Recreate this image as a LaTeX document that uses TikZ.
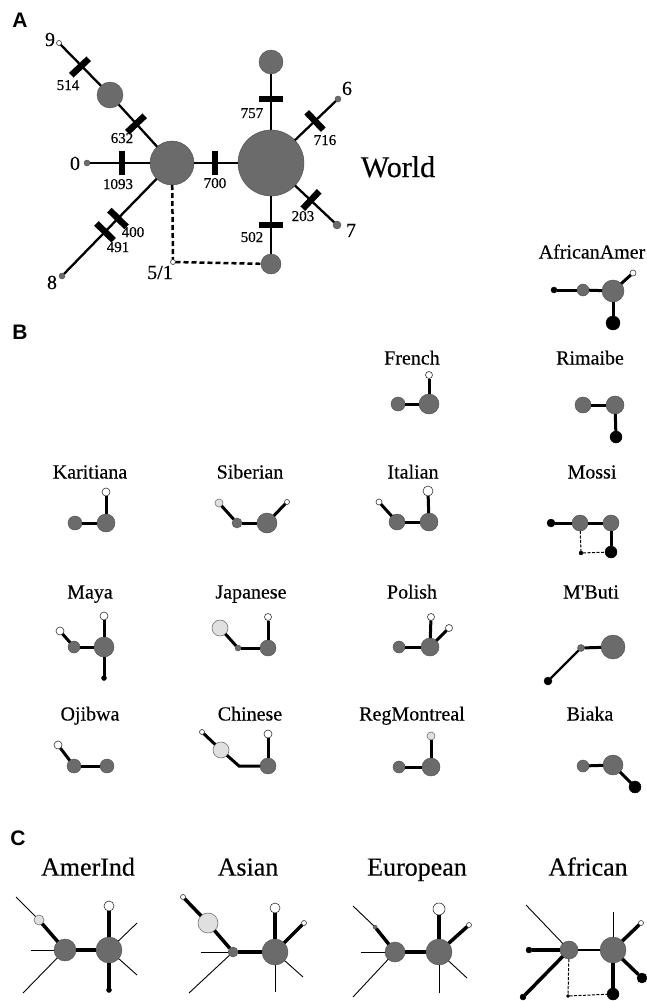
\documentclass[tikz,border=0pt]{standalone}
\usepackage{fontspec}
\setmainfont{Liberation Serif}[Ligatures=TeXOff, FakeBold=0.3]
\newfontfamily\hvfont{Liberation Sans}
\begin{document}
\begin{tikzpicture}[x=1pt,y=-1pt,
 nd/.style={circle, inner sep=0pt, outer sep=0pt},
 gn/.style={nd, fill=black!58, draw=black!70, line width=0.4pt, minimum size=#1},
 wn/.style={nd, fill=white, draw=black!80, line width=0.6pt, minimum size=#1},
 pn/.style={nd, fill=black!12, draw=black!55, line width=0.6pt, minimum size=#1},
 kn/.style={nd, fill=black, draw=black, line width=0.4pt, minimum size=#1},
 al/.style={line width=2.3pt},
 bl/.style={line width=3pt},
 cl/.style={line width=3.5pt},
 tl/.style={line width=0.9pt},
 dla/.style={line width=2.5pt, dash pattern=on 5pt off 3pt},
 dlb/.style={line width=1pt, dash pattern=on 3pt off 1.5pt},
 barline/.style={line width=6.5pt},
 numlab/.style={font=\fontsize{15}{15}\selectfont, inner sep=0pt, anchor=base},
 biglab/.style={font=\fontsize{20}{20}\selectfont, inner sep=0pt, anchor=base},
 poplab/.style={font=\fontsize{20}{20}\selectfont, inner sep=0pt, anchor=base},
 grplab/.style={font=\fontsize{26}{26}\selectfont, inner sep=0pt, anchor=base},
 panlab/.style={font=\hvfont\bfseries\fontsize{21}{21}\selectfont, inner sep=0pt, anchor=base},
]
\useasboundingbox[fill=white] (0,0) rectangle (646,1001);

%%%%%%%%%%%%%%%% Panel A
\node[panlab] (pA) at (20,27.5) {A};
\node[wn=5] (n9) at (59,43) {};
\node[gn=26] (n632) at (110,95) {};
\node[gn=44] (L) at (172,163) {};
\node[gn=66] (R) at (271,163) {};
\node[gn=6] (n0) at (87,163) {};
\node[gn=24] (nT) at (271,62) {};
\node[gn=6] (n6) at (338,99) {};
\node[gn=8] (n7) at (337,225) {};
\node[gn=20] (nB) at (271,264) {};
\node[gn=6] (n8) at (62,276) {};
\node[wn=5] (n51) at (173,262) {};

\draw[al] (n9) -- (n632);
\draw[al] (n632) -- (L);
\draw[al] (n0) -- (L);
\draw[al] (L) -- (R);
\draw[al] (R) -- (nT);
\draw[al] (R) -- (n6);
\draw[al] (R) -- (n7);
\draw[al] (R) -- (nB);
\draw[al] (L) -- (n8);
\draw[dla] (L) -- (n51);
\draw[dla] (n51) -- (nB);

% mutation bars
\draw[barline] (71.3,75.2) -- (88.7,58.8);
\draw[barline] (127.3,132.2) -- (144.7,115.8);
\draw[barline] (122,151) -- (122,175);
\draw[barline] (215,151) -- (215,175);
\draw[barline] (259,99) -- (283,99);
\draw[barline] (306.7,112.3) -- (323.3,129.7);
\draw[barline] (302.8,208.7) -- (319.2,191.3);
\draw[barline] (259,225) -- (283,225);
\draw[barline] (109.4,210.1) -- (126.6,226.9);
\draw[barline] (96.4,223.4) -- (113.6,240.2);

\node[numlab] (t514) at (68,90) {514};
\node[numlab] (t632) at (122,143) {632};
\node[numlab] (t1093) at (118,189) {1093};
\node[numlab] (t700) at (215,188) {700};
\node[numlab] (t757) at (252,118) {757};
\node[numlab] (t716) at (325,145) {716};
\node[numlab] (t203) at (303,221) {203};
\node[numlab] (t502) at (252,242) {502};
\node[numlab] (t400) at (133,237) {400};
\node[numlab] (t491) at (118,252) {491};
\node[biglab] (t9) at (50,46) {9};
\node[biglab] (t0) at (75,170) {0};
\node[biglab] (t8) at (52,289) {8};
\node[biglab] (t51) at (160,279) {5/1};
\node[biglab] (t6) at (347,95) {6};
\node[biglab] (t7) at (351,237) {7};
\node[font=\fontsize{30}{30}\selectfont, inner sep=0pt, anchor=base] (tW) at (398,177) {World};

%%%%%%%%%%%%%%%% Panel B
\node[panlab] (pB) at (20,339.5) {B};

% AfricanAmer
\node[poplab] (lAA) at (592,258.5) {AfricanAmer};
\node[kn=6] (aa1) at (554,290) {};
\node[gn=12] (aa2) at (583,290) {};
\node[gn=22] (aa3) at (613,291) {};
\node[wn=6] (aa4) at (633,273) {};
\node[kn=14] (aa5) at (613,323) {};
\draw[bl] (aa1) -- (aa2); \draw[bl] (aa2) -- (aa3);
\draw[bl] (aa3) -- (aa4); \draw[bl] (aa3) -- (aa5);

% French
\node[poplab] (lFR) at (412,364.5) {French};
\node[gn=14] (fr1) at (398,404) {};
\node[gn=20] (fr2) at (429,404) {};
\node[wn=7] (fr3) at (429,375) {};
\draw[bl] (fr1) -- (fr2); \draw[bl] (fr2) -- (fr3);

% Rimaibe
\node[poplab] (lRI) at (590,364.5) {Rimaibe};
\node[gn=16] (ri1) at (583,405) {};
\node[gn=18] (ri2) at (615,405) {};
\node[kn=12] (ri3) at (616,437) {};
\draw[bl] (ri1) -- (ri2); \draw[bl] (ri2) -- (ri3);

% Karitiana
\node[poplab] (lKA) at (90,478.5) {Karitiana};
\node[gn=14] (ka1) at (75,523) {};
\node[gn=18] (ka2) at (106,523) {};
\node[wn=8] (ka3) at (106,492) {};
\draw[bl] (ka1) -- (ka2); \draw[bl] (ka2) -- (ka3);

% Siberian
\node[poplab] (lSI) at (250,478.5) {Siberian};
\node[pn=8] (si1) at (219,503) {};
\node[gn=10] (si2) at (237,523) {};
\node[gn=20] (si3) at (267,523) {};
\node[wn=5] (si4) at (287,502) {};
\draw[bl] (si1) -- (si2); \draw[bl] (si2) -- (si3); \draw[bl] (si3) -- (si4);

% Italian
\node[poplab] (lIT) at (413,478.5) {Italian};
\node[wn=6] (it1) at (379,502) {};
\node[gn=16] (it2) at (397,522) {};
\node[gn=18] (it3) at (429,522) {};
\node[wn=10] (it4) at (428,491) {};
\draw[bl] (it1) -- (it2); \draw[bl] (it2) -- (it3); \draw[bl] (it3) -- (it4);

% Mossi
\node[poplab] (lMO) at (592,478.5) {Mossi};
\node[kn=8] (mo1) at (551,523) {};
\node[gn=16] (mo2) at (580,523) {};
\node[gn=16] (mo3) at (611,523) {};
\node[kn=12] (mo4) at (611,552) {};
\node[kn=4] (mo5) at (581,553) {};
\draw[bl] (mo1) -- (mo2); \draw[bl] (mo2) -- (mo3); \draw[bl] (mo3) -- (mo4);
\draw[dlb] (mo2) -- (mo5); \draw[dlb] (mo5) -- (mo4);

% Maya
\node[poplab] (lMA) at (90,598.5) {Maya};
\node[wn=8] (ma1) at (60,631) {};
\node[gn=12] (ma2) at (74,647) {};
\node[gn=20] (ma3) at (104,647) {};
\node[wn=8] (ma4) at (104,616) {};
\node[kn=5] (ma5) at (104,678) {};
\draw[bl] (ma1) -- (ma2); \draw[bl] (ma2) -- (ma3);
\draw[bl] (ma3) -- (ma4); \draw[bl] (ma3) -- (ma5);

% Japanese
\node[poplab] (lJA) at (251,598.5) {Japanese};
\node[pn=16] (ja1) at (220,628) {};
\node[gn=6] (ja2) at (238,648) {};
\node[gn=16] (ja3) at (268,648) {};
\node[wn=7] (ja4) at (268,617) {};
\draw[bl] (ja1) -- (ja2); \draw[bl] (ja2) -- (ja3); \draw[bl] (ja3) -- (ja4);

% Polish
\node[poplab] (lPO) at (412,598.5) {Polish};
\node[gn=12] (po1) at (399,647) {};
\node[gn=18] (po2) at (430,647) {};
\node[wn=7] (po3) at (431,617) {};
\node[wn=7] (po4) at (449,628) {};
\draw[bl] (po1) -- (po2); \draw[bl] (po2) -- (po3); \draw[bl] (po2) -- (po4);

% M'Buti
\node[poplab] (lMB) at (591,598.5) {M'Buti};
\node[kn=8] (mb1) at (548,681) {};
\node[gn=7] (mb2) at (581,648) {};
\node[gn=24] (mb3) at (613,647) {};
\draw[line width=2.2pt] (mb1) -- (mb2); \draw[bl] (mb2) -- (mb3);

% Ojibwa
\node[poplab] (lOJ) at (90,720.5) {Ojibwa};
\node[wn=8] (oj1) at (58,745) {};
\node[gn=14] (oj2) at (74,766) {};
\node[gn=14] (oj3) at (107,766) {};
\draw[bl] (oj1) -- (oj2); \draw[bl] (oj2) -- (oj3);

% Chinese
\node[poplab] (lCH) at (250,720.5) {Chinese};
\node[wn=5] (ch1) at (202,732) {};
\node[pn=16] (ch2) at (221,750) {};
\coordinate (chb) at (239,766);
\node[gn=16] (ch3) at (268,766) {};
\node[wn=8] (ch4) at (268,734) {};
\draw[bl] (ch1) -- (ch2); \draw[bl, line join=miter] (ch2) -- (chb) -- (ch3); \draw[bl] (ch3) -- (ch4);

% RegMontreal
\node[poplab] (lRM) at (412,720.5) {RegMontreal};
\node[gn=12] (rm1) at (399,767) {};
\node[gn=18] (rm2) at (431,767) {};
\node[pn=8] (rm3) at (431,736) {};
\draw[bl] (rm1) -- (rm2); \draw[bl] (rm2) -- (rm3);

% Biaka
\node[poplab] (lBI) at (590,720.5) {Biaka};
\node[gn=12] (bi1) at (583,766) {};
\node[gn=20] (bi2) at (613,765) {};
\node[kn=12] (bi3) at (635,787) {};
\draw[bl] (bi1) -- (bi2); \draw[bl] (bi2) -- (bi3);

%%%%%%%%%%%%%%%% Panel C
\node[panlab] (pC) at (18,845.5) {C};

% AmerInd
\node[grplab] (lAM) at (88,875.6) {AmerInd};
\node[gn=22] (am1) at (65,950) {};
\node[gn=26] (am2) at (109,950) {};
\node[wn=10] (am3) at (109,906) {};
\node[pn=10] (am4) at (39,920) {};
\node[kn=5] (am5) at (109,990) {};
\coordinate (amA) at (16,897);
\coordinate (amB) at (31,950);
\coordinate (amC) at (23,993);
\coordinate (amD) at (137,923);
\coordinate (amE) at (137,975);
\draw[cl] (am1) -- (am2); \draw[cl] (am1) -- (am4);
\draw[cl] (am2) -- (am3); \draw[cl] (am2) -- (am5);
\draw[tl] (am4) -- (amA); \draw[tl] (am1) -- (amB); \draw[tl] (am1) -- (amC);
\draw[tl] (am2) -- (amD); \draw[tl] (am2) -- (amE);

% Asian
\node[grplab] (lAS) at (248,875.6) {Asian};
\node[gn=10] (as1) at (233,952) {};
\node[gn=26] (as2) at (275,952) {};
\node[pn=20] (as3) at (208,923) {};
\node[wn=5] (as4) at (183,897) {};
\node[wn=10] (as5) at (275,908) {};
\node[wn=5] (as6) at (304,923) {};
\coordinate (asA) at (201,952);
\coordinate (asB) at (189,993);
\coordinate (asC) at (303,977);
\coordinate (asD) at (275,992);
\draw[cl] (as4) -- (as3); \draw[cl] (as3) -- (as1); \draw[cl] (as1) -- (as2);
\draw[cl] (as2) -- (as5); \draw[cl] (as2) -- (as6);
\draw[tl] (as1) -- (asA); \draw[tl] (as1) -- (asB);
\draw[tl] (as2) -- (asC); \draw[tl] (as2) -- (asD);

% European
\node[grplab] (lEU) at (417,875.6) {European};
\node[gn=20] (eu1) at (395,952) {};
\node[gn=26] (eu2) at (439,952) {};
\node[wn=12] (eu3) at (439,909) {};
\node[wn=5] (eu4) at (469,925) {};
\node[gn=4] (eu5) at (375,927) {};
\coordinate (euA) at (353,906);
\coordinate (euB) at (361,952);
\coordinate (euC) at (353,997);
\coordinate (euD) at (439,993);
\coordinate (euE) at (467,978);
\draw[cl] (eu1) -- (eu5); \draw[cl] (eu1) -- (eu2);
\draw[cl] (eu2) -- (eu3); \draw[cl] (eu2) -- (eu4);
\draw[tl] (eu5) -- (euA); \draw[tl] (eu1) -- (euB); \draw[tl] (eu1) -- (euC);
\draw[tl] (eu2) -- (euD); \draw[tl] (eu2) -- (euE);

% African
\node[grplab] (lAF) at (588,875.6) {African};
\node[gn=18] (af1) at (569,950) {};
\node[gn=26] (af2) at (613,950) {};
\node[kn=6] (af3) at (529,950) {};
\node[kn=6] (af4) at (523,997) {};
\node[kn=3] (af5) at (568,996) {};
\node[kn=12] (af6) at (613,994) {};
\node[wn=5] (af7) at (641,923) {};
\node[kn=10] (af8) at (642,978) {};
\coordinate (afA) at (526,905);
\coordinate (afB) at (613,912);
\draw[cl] (af1) -- (af3); \draw[cl] (af1) -- (af4);
\draw[line width=2.2pt] (af1) -- (af2);
\draw[cl] (af2) -- (af6); \draw[cl] (af2) -- (af7); \draw[cl] (af2) -- (af8);
\draw[tl] (af1) -- (afA); \draw[tl] (af2) -- (afB);
\draw[dlb] (af1) -- (af5); \draw[dlb] (af5) -- (af6);
\end{tikzpicture}
\end{document}
